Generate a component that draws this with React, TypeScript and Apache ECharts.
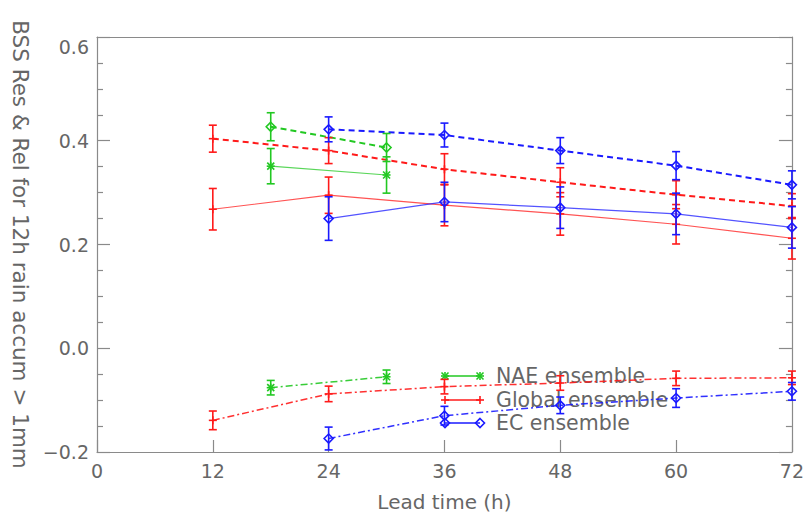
import React, { useEffect, useRef } from "react";
import * as echarts from "echarts";

// ---- data ----
const leadGlobal = [12, 24, 36, 48, 60, 72];
const leadNAE = [18, 30];
const leadEC = [24, 36, 48, 60, 72];

const globalDashed = [0.404, 0.381, 0.345, 0.32, 0.296, 0.274];
const globalDashedErr = [0.026, 0.025, 0.03, 0.028, 0.027, 0.024];
const globalSolid = [0.268, 0.295, 0.276, 0.259, 0.239, 0.212];
const globalSolidErr = [0.04, 0.035, 0.04, 0.041, 0.038, 0.04];
const globalDashDot = [-0.139, -0.088, -0.074, -0.067, -0.058, -0.057];
const globalDashDotErr = [0.018, 0.015, 0.014, 0.014, 0.014, 0.013];

const naeDashed = [0.427, 0.387];
const naeDashedErr = [0.027, 0.027];
const naeSolid = [0.351, 0.334];
const naeSolidErr = [0.034, 0.035];
const naeDashDot = [-0.076, -0.055];
const naeDashDotErr = [0.014, 0.013];

const ecDashed = [0.422, 0.411, 0.381, 0.352, 0.315];
const ecDashedErr = [0.024, 0.023, 0.025, 0.027, 0.027];
const ecSolid = [0.25, 0.282, 0.271, 0.259, 0.233];
const ecSolidErr = [0.042, 0.038, 0.04, 0.04, 0.04];
const ecDashDot = [-0.174, -0.13, -0.11, -0.096, -0.083];
const ecDashDotErr = [0.022, 0.018, 0.016, 0.018, 0.017];

const xTicks = [0, 12, 24, 36, 48, 60, 72];
const yTicks = [-0.2, 0.0, 0.2, 0.4, 0.6];

const legendNames = ["NAE ensemble", "Global ensemble", "EC ensemble"];

// ---- styles ----
const RED = "#ff1a1a";
const GREEN = "#22c822";
const BLUE = "#1a1aff";
const AXIS = "#8a8a8a";
const TEXT = "#666666";
const FONT = "DejaVu Sans";

type Marker = "plus" | "asterisk" | "diamond";

function markerShapes(marker: Marker, cx: number, cy: number, style: any) {
  const s = 4;
  if (marker === "plus") {
    return [
      { type: "line", shape: { x1: cx - s, y1: cy, x2: cx + s, y2: cy }, style },
      { type: "line", shape: { x1: cx, y1: cy - s, x2: cx, y2: cy + s }, style },
    ];
  }
  if (marker === "asterisk") {
    const d = 3.5;
    return [
      { type: "line", shape: { x1: cx - s, y1: cy, x2: cx + s, y2: cy }, style },
      { type: "line", shape: { x1: cx, y1: cy - s, x2: cx, y2: cy + s }, style },
      { type: "line", shape: { x1: cx - d, y1: cy - d, x2: cx + d, y2: cy + d }, style },
      { type: "line", shape: { x1: cx - d, y1: cy + d, x2: cx + d, y2: cy - d }, style },
    ];
  }
  const r = 4.5;
  return [
    {
      type: "polygon",
      shape: { points: [[cx, cy - r], [cx + r, cy], [cx, cy + r], [cx - r, cy]] },
      style: { ...style, fill: "none" },
    },
  ];
}

function lineSeries(xs: number[], ys: number[], color: string, type: any, width: number, opacity: number) {
  return {
    type: "line",
    data: xs.map((x, i) => [x, ys[i]]),
    symbol: "none",
    silent: true,
    lineStyle: { color, type, width, opacity },
    z: 2,
  };
}

function errSeries(xs: number[], ys: number[], errs: number[], color: string, marker: Marker) {
  return {
    type: "custom",
    silent: true,
    data: xs.map((x, i) => [x, ys[i], errs[i]]),
    encode: { x: 0, y: 1 },
    z: 3,
    renderItem: (_params: any, api: any) => {
      const x = api.value(0);
      const y = api.value(1);
      const e = api.value(2);
      const p = api.coord([x, y]);
      const lo = api.coord([x, y - e]);
      const hi = api.coord([x, y + e]);
      const style = { stroke: color, lineWidth: 1.6, fill: "none" };
      const cw = 4;
      return {
        type: "group",
        children: [
          { type: "line", shape: { x1: p[0], y1: hi[1], x2: p[0], y2: lo[1] }, style },
          { type: "line", shape: { x1: p[0] - cw, y1: hi[1], x2: p[0] + cw, y2: hi[1] }, style },
          { type: "line", shape: { x1: p[0] - cw, y1: lo[1], x2: p[0] + cw, y2: lo[1] }, style },
          ...markerShapes(marker, p[0], p[1], style),
        ],
      };
    },
  };
}

const DASH = [6, 4];
const DASHDOT = [7, 3, 2, 3];

function legendItem(name: string, color: string, marker: Marker, y: number) {
  const x1 = 445;
  const x2 = 480;
  const style = { stroke: color, lineWidth: 1.6, fill: "none" };
  return {
    type: "group",
    silent: true,
    children: [
      { type: "line", shape: { x1, y1: y, x2, y2: y }, style },
      ...markerShapes(marker, x1, y, style),
      ...markerShapes(marker, x2, y, style),
      {
        type: "text",
        x: 496,
        y,
        style: { text: name, fill: TEXT, font: `20.5px ${FONT}`, verticalAlign: "middle", align: "left" },
      },
    ],
  };
}

export default function App() {
  const ref = useRef<HTMLDivElement>(null);
  useEffect(() => {
    if (!ref.current) return;
    const chart = echarts.init(ref.current, undefined, { renderer: "svg" });
    const baseAxisLine = { show: true, onZero: false, lineStyle: { color: AXIS, width: 1.2 } };
    const option: any = {
      animation: false,
      backgroundColor: "#ffffff",
      grid: { left: 97, right: 14, top: 37, bottom: 57, containLabel: false },
      xAxis: [
        {
          type: "value",
          position: "bottom",
          min: xTicks[0],
          max: xTicks[xTicks.length - 1],
          interval: 12,
          axisLine: baseAxisLine,
          axisTick: { inside: true, length: 12, lineStyle: { color: AXIS, width: 1.2 } },
          axisLabel: { color: TEXT, fontSize: 19, fontFamily: FONT, margin: 9 },
          splitLine: { show: false },
          name: "Lead time (h)",
          nameLocation: "middle",
          nameGap: 40,
          nameTextStyle: { color: TEXT, fontSize: 20, fontFamily: FONT },
        },
        {
          type: "value",
          position: "top",
          min: xTicks[0],
          max: xTicks[xTicks.length - 1],
          interval: 12,
          axisLine: baseAxisLine,
          axisTick: { show: false },
          axisLabel: { show: false },
          splitLine: { show: false },
        },
      ],
      yAxis: [
        {
          type: "value",
          position: "left",
          min: yTicks[0],
          max: yTicks[yTicks.length - 1],
          interval: 0.2,
          axisLine: baseAxisLine,
          axisTick: { inside: true, length: 13, lineStyle: { color: AXIS, width: 1.2 } },
          minorTick: { show: true, splitNumber: 4, length: 6, lineStyle: { color: AXIS, width: 1.2 } },
          axisLabel: {
            color: TEXT,
            fontSize: 19,
            fontFamily: FONT,
            margin: 8,
            formatter: (v: number) => {
              const s = v.toFixed(1).replace("-", "\u2212");
              return Math.abs(v - 0.6) < 1e-9 ? `{top|${s}}` : s;
            },
            rich: { top: { padding: [20, 0, 0, 0], color: TEXT, fontSize: 19, fontFamily: FONT } },
          },
          splitLine: { show: false },
          name: "BSS Res & Rel for 12h rain accum > 1mm",
          nameLocation: "middle",
          nameRotate: -90,
          nameGap: 66,
          nameTextStyle: { color: TEXT, fontSize: 21.5, fontFamily: FONT },
        },
        {
          type: "value",
          position: "right",
          min: yTicks[0],
          max: yTicks[yTicks.length - 1],
          interval: 0.2,
          axisLine: baseAxisLine,
          axisTick: { inside: true, length: 13, lineStyle: { color: AXIS, width: 1.2 } },
          minorTick: { show: true, splitNumber: 4, length: 6, lineStyle: { color: AXIS, width: 1.2 } },
          axisLabel: { show: false },
          splitLine: { show: false },
        },
      ],
      series: [
        lineSeries(leadGlobal, globalDashed, RED, DASH, 2, 1),
        lineSeries(leadGlobal, globalSolid, RED, "solid", 1.2, 0.75),
        lineSeries(leadGlobal, globalDashDot, RED, DASHDOT, 1.5, 0.9),
        lineSeries(leadNAE, naeDashed, GREEN, DASH, 2, 1),
        lineSeries(leadNAE, naeSolid, GREEN, "solid", 1.2, 0.75),
        lineSeries(leadNAE, naeDashDot, GREEN, DASHDOT, 1.5, 0.9),
        lineSeries(leadEC, ecDashed, BLUE, DASH, 2, 1),
        lineSeries(leadEC, ecSolid, BLUE, "solid", 1.2, 0.75),
        lineSeries(leadEC, ecDashDot, BLUE, DASHDOT, 1.5, 0.9),
        errSeries(leadGlobal, globalDashed, globalDashedErr, RED, "plus"),
        errSeries(leadGlobal, globalSolid, globalSolidErr, RED, "plus"),
        errSeries(leadGlobal, globalDashDot, globalDashDotErr, RED, "plus"),
        errSeries(leadNAE, naeDashed, naeDashedErr, GREEN, "diamond"),
        errSeries(leadNAE, naeSolid, naeSolidErr, GREEN, "asterisk"),
        errSeries(leadNAE, naeDashDot, naeDashDotErr, GREEN, "asterisk"),
        errSeries(leadEC, ecDashed, ecDashedErr, BLUE, "diamond"),
        errSeries(leadEC, ecSolid, ecSolidErr, BLUE, "diamond"),
        errSeries(leadEC, ecDashDot, ecDashDotErr, BLUE, "diamond"),
      ],
      graphic: [
        legendItem(legendNames[0], GREEN, "asterisk", 376),
        legendItem(legendNames[1], RED, "plus", 400),
        legendItem(legendNames[2], BLUE, "diamond", 423),
      ],
    };
    chart.setOption(option);
    return () => chart.dispose();
  }, []);
  return (
    <div
      ref={ref}
      style={{ position: "fixed", left: 0, top: 0, width: 807, height: 517, background: "#fff" }}
    />
  );
}
